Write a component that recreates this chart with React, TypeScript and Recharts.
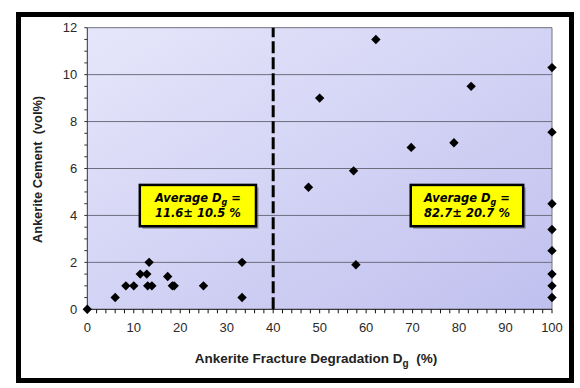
import React from 'react';
import { ScatterChart, Scatter, XAxis, YAxis, CartesianGrid, ReferenceLine, ReferenceArea } from 'recharts';

// Ankerite fracture degradation Dg (%) vs ankerite cement (vol%)
const degradation = [0, 6, 8.3, 10, 11.4, 12.8, 13.3, 13, 13.9, 17.3, 18.3, 18.7, 25, 33.3, 33.3,
  47.6, 50, 57.3, 57.8, 62.1, 69.7, 78.9, 82.6, 100, 100, 100, 100, 100, 100, 100, 100];
const cement = [0, 0.5, 1, 1, 1.5, 1.5, 2, 1, 1, 1.4, 1, 1, 1, 2, 0.5,
  5.2, 9, 5.9, 1.9, 11.5, 6.9, 7.1, 9.5, 10.3, 7.55, 4.5, 3.4, 2.5, 1.5, 1, 0.5];

const xMajorTicks = [0, 10, 20, 30, 40, 50, 60, 70, 80, 90, 100];
const yMajorTicks = [0, 2, 4, 6, 8, 10, 12];
const cutoff = 40;

// group averages shown in the yellow boxes
const groupMeans = ['11.6', '82.7'];
const groupSds = ['10.5', '20.7'];
const boxX = [[11.3, 36.3], [69.6, 93.8]];
const boxY = [3.54, 5.3];

const xTicks: number[] = [];
for (let v = 0; v <= 100; v += 2) xTicks.push(v);
const yTicks: number[] = [];
for (let v = 0; v <= 12; v += 0.5) yTicks.push(v);

const points = degradation.map((x, i) => ({ x, y: cement[i] }));

const Diamond = (props: any) => {
  const { cx, cy } = props;
  const r = 4.7;
  return <polygon points={`${cx},${cy - r} ${cx + r},${cy} ${cx},${cy + r} ${cx - r},${cy}`} fill="#000" />;
};

const makeBox = (mean: string, sd: string) => (props: any) => {
  const { x, y, width, height } = props;
  const cx = x + width / 2;
  const font = { fontFamily: '"DejaVu Sans", Verdana, sans-serif', fontWeight: 700, fontStyle: 'italic', fontSize: 11.5, fill: '#000' };
  return (
    <g>
      <rect x={x + 2.5} y={y + 2.5} width={width} height={height} fill="#555" opacity={0.55} />
      <rect x={x} y={y} width={width} height={height} fill="#ffff00" stroke="#000" strokeWidth={2.5} />
      <text x={cx} y={y + 17} textAnchor="middle" style={font}>
        Average D<tspan dy={3} fontSize={8}>g</tspan><tspan dy={-3}> =</tspan>
      </text>
      <text x={cx} y={y + 32} textAnchor="middle" style={font}>
        {`${mean}± ${sd} %`}
      </text>
    </g>
  );
};

const tickStyle = { fontFamily: '"Liberation Sans", Arial, sans-serif', fontSize: 13, fill: '#2a2a2a' };

export default function App() {
  return (
    <div style={{ position: 'absolute', left: 0, top: 0, width: 580, height: 388, background: '#fff', overflow: 'hidden' }}>
      <div style={{ position: 'absolute', left: 16, top: 12, width: 558, height: 371, border: '5px solid #000', boxSizing: 'border-box' }} />
      <div style={{ position: 'absolute', left: 0, top: 0 }}>
        <ScatterChart width={580} height={388} margin={{ top: 27.7, right: 28, bottom: 48.7, left: 47.3 }}>
          <defs>
            <linearGradient id="plotBg" x1="0" y1="0" x2="1" y2="1">
              <stop offset="0%" stopColor="#e6e6fb" />
              <stop offset="100%" stopColor="#c0c0ef" />
            </linearGradient>
          </defs>
          <CartesianGrid vertical={false} horizontalValues={[2, 4, 6, 8, 10, 12]} stroke="#6e6e80" fill="url(#plotBg)" />
          <XAxis type="number" dataKey="x" domain={[0, 100]} ticks={xTicks} interval={0} height={30}
            tickFormatter={(v: number) => (xMajorTicks.includes(v) ? String(v) : '')}
            tick={tickStyle} tickSize={4} tickMargin={9} axisLine={{ stroke: '#111' }} tickLine={{ stroke: '#111' }} />
          <YAxis type="number" dataKey="y" domain={[0, 12]} ticks={yTicks} interval={0} width={40}
            tickFormatter={(v: number) => (yMajorTicks.includes(v) ? String(v) : '')}
            tick={tickStyle} tickSize={3} tickMargin={7} axisLine={{ stroke: '#333' }} tickLine={{ stroke: '#333' }} />
          <ReferenceLine x={100} stroke="#777" strokeWidth={1} />
          <ReferenceLine x={cutoff} stroke="#000" strokeWidth={3} strokeDasharray="12 4" />
          {groupMeans.map((m, i) => (
            <ReferenceArea key={i} x1={boxX[i][0]} x2={boxX[i][1]} y1={boxY[0]} y2={boxY[1]}
              shape={makeBox(m, groupSds[i])} />
          ))}
          <Scatter data={points} shape={<Diamond />} isAnimationActive={false} />
        </ScatterChart>
      </div>
      <div style={{ position: 'absolute', left: 116, top: 351, width: 400, textAlign: 'center', fontFamily: '"Liberation Sans", Arial, sans-serif', fontWeight: 700, fontSize: 13.5, lineHeight: '15px', color: '#222' }}>
        Ankerite Fracture Degradation D<sub style={{ fontSize: 10 }}>g</sub>&nbsp; (%)
      </div>
      <div style={{ position: 'absolute', left: 36.5 - 100, top: 169 - 7.5, width: 200, height: 15, textAlign: 'center', transform: 'rotate(-90deg)', fontFamily: '"Liberation Sans", Arial, sans-serif', fontWeight: 700, fontSize: 12.8, lineHeight: '15px', color: '#222', whiteSpace: 'pre' }}>
        {'Ankerite Cement  (vol%)'}
      </div>
    </div>
  );
}
